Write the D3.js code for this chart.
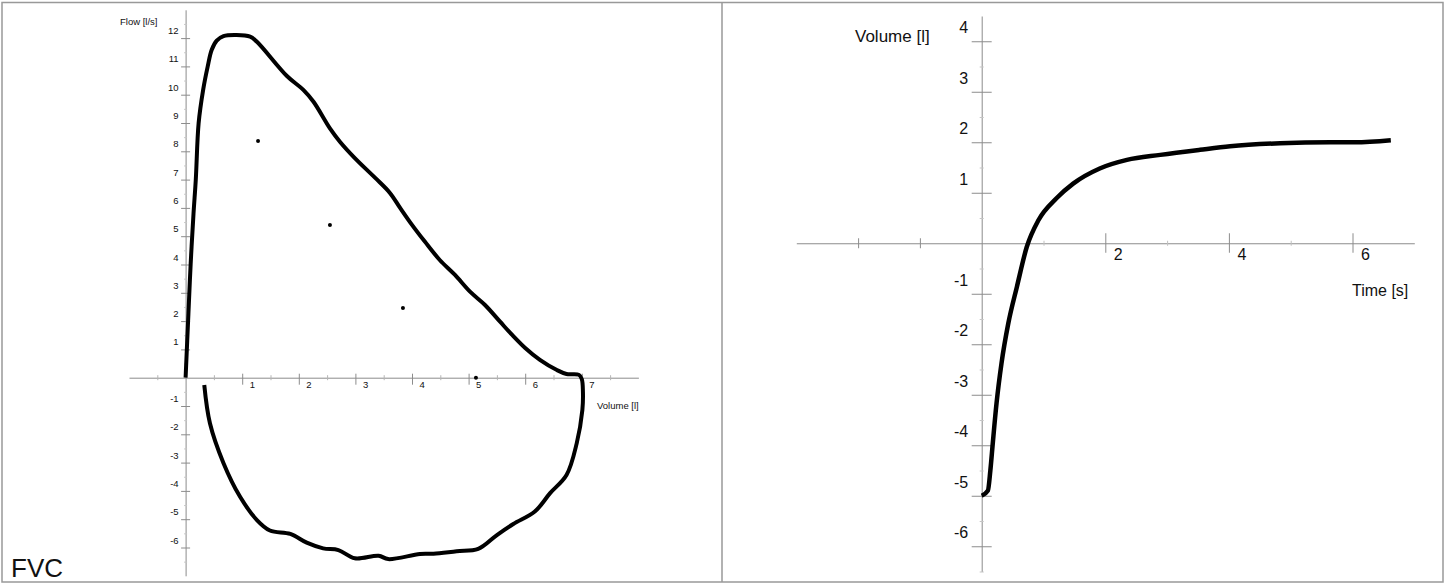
<!DOCTYPE html>
<html>
<head>
<meta charset="utf-8">
<script src="https://cdn.jsdelivr.net/npm/d3@7"></script>
<style>
  html, body { margin: 0; padding: 0; background: #fff; }
  svg { display: block; font-family: "Liberation Sans", Arial, sans-serif; }
</style>
</head>
<body>
<div id="chart"></div>
<script>
// flow-volume loop (left panel)
const loopVolume = [0, 0.05, 0.09, 0.14, 0.18, 0.23, 0.31, 0.39, 0.46, 0.55, 0.67, 0.9, 1.14, 1.26,
  1.79, 2.08, 2.26, 2.55, 2.73, 2.99, 3.35, 3.61, 3.79, 4.0, 4.23, 4.49, 4.76, 5.03, 5.29, 5.56,
  5.77, 6.0, 6.26, 6.56, 6.73, 6.95, 7.0, 7.02, 7.01, 6.91, 6.73, 6.44, 6.17, 5.79, 5.5, 5.17, 4.79,
  4.38, 4.14, 3.58, 3.41, 2.99, 2.7, 2.43, 2.14, 1.85, 1.49, 1.26, 0.96, 0.67, 0.43, 0.33];
const loopFlow = [0, 2.27, 4.04, 5.81, 7.0, 8.99, 10.17, 10.99, 11.58, 11.91, 12.07, 12.11, 12.05, 11.87,
  10.66, 10.17, 9.75, 8.81, 8.33, 7.76, 7.06, 6.53, 6.0, 5.4, 4.8, 4.16, 3.63, 3.03, 2.57, 1.97,
  1.51, 1.05, 0.63, 0.27, 0.13, 0.1, -0.05, -0.5, -1.14, -2.32, -3.44, -4.08, -4.73, -5.17, -5.56, -6.05, -6.13,
  -6.22, -6.23, -6.41, -6.29, -6.38, -6.09, -6.03, -5.83, -5.52, -5.4, -5.03, -4.2, -3.02, -1.61, -0.26];
const markerVolume = [1.28, 2.55, 3.84, 5.13];
const markerFlow = [8.36, 5.4, 2.46, 0];

// volume-time curve (right panel)
const vtTime = [0, 0.1, 0.14, 0.18, 0.24, 0.32, 0.43, 0.57, 0.73, 0.92, 1.21, 1.48, 1.91, 2.35, 2.89,
  3.53, 4.02, 4.83, 5.64, 6.04, 6.62];
const vtVolume = [-5.0, -4.9, -4.5, -3.95, -3.17, -2.38, -1.59, -0.86, -0.07, 0.46, 0.89, 1.18, 1.48, 1.65, 1.75,
  1.85, 1.92, 1.98, 2.0, 2.0, 2.04];

// ticks
const leftXTicks = [1, 2, 3, 4, 5, 6, 7];
const leftXMinor = [-0.5, 0.5, 1.5, 2.5, 3.5, 4.5, 5.5, 6.5, 7.5];
const leftYTicks = [-6, -5, -4, -3, -2, -1, 1, 2, 3, 4, 5, 6, 7, 8, 9, 10, 11, 12];
const leftYMinor = [-6.5, -5.5, -4.5, -3.5, -2.5, -1.5, -0.5, 0.5, 1.5, 2.5, 3.5, 4.5, 5.5, 6.5, 7.5, 8.5, 9.5, 10.5, 11.5, 12.5];
const rightXTicks = [2, 4, 6];
const rightXNeg = [-2, -1];
const rightXMinor = [1, 3, 5];
const rightYTicks = [-6, -5, -4, -3, -2, -1, 1, 2, 3, 4];
const rightYMinor = [-6.5, -5.5, -4.5, -3.5, -2.5, -1.5, -0.5, 0.5, 1.5, 2.5, 3.5];

const W = 1445, H = 585;
const axisColor = '#8c8c8c';

const svg = d3.select('#chart').append('svg')
  .attr('width', W)
  .attr('height', H);

// frame
svg.append('rect')
  .attr('x', 2).attr('y', 2.5)
  .attr('width', 1441).attr('height', 579.5)
  .attr('fill', 'none').attr('stroke', '#999').attr('stroke-width', 1.5);
svg.append('line')
  .attr('x1', 722).attr('x2', 722).attr('y1', 2.5).attr('y2', 582)
  .attr('stroke', '#999').attr('stroke-width', 1.5);

// scales
const xL = d3.scaleLinear().domain([-1, 8]).range([129, 638.4]);
const yL = d3.scaleLinear().domain([-7, 13]).range([575.8, 9.8]);
const xR = d3.scaleLinear().domain([-3, 7]).range([796.3, 1414.3]);
const yR = d3.scaleLinear().domain([-6.5, 4.5]).range([571.5, 16]);

// plain hyphen for negatives, like the original
const plain = d => String(d);

function styleAxis(g) {
  g.select('.domain').attr('stroke', axisColor).attr('stroke-width', 1);
  g.selectAll('.tick line').attr('stroke', axisColor).attr('stroke-width', 1);
  g.selectAll('.tick text').attr('fill', '#111');
}

function hAxis(scale, y, values, up, down, labels, fontSize, dx, dy) {
  const g = svg.append('g')
    .attr('transform', `translate(0,${y})`)
    .call(d3.axisBottom(scale).tickValues(values).tickSizeOuter(0)
      .tickFormat(labels ? plain : () => ''));
  styleAxis(g);
  g.selectAll('.tick line').attr('y1', -up).attr('y2', down);
  g.selectAll('.tick text')
    .attr('text-anchor', 'start')
    .attr('x', dx).attr('y', dy).attr('dy', 0)
    .style('font-size', fontSize + 'px');
  return g;
}

function vAxis(scale, x, values, half, labels, fontSize, dx, dy) {
  const g = svg.append('g')
    .attr('transform', `translate(${x},0)`)
    .call(d3.axisLeft(scale).tickValues(values).tickSizeOuter(0)
      .tickFormat(labels ? plain : () => ''));
  styleAxis(g);
  g.selectAll('.tick line').attr('x1', -half).attr('x2', half);
  g.selectAll('.tick text')
    .attr('text-anchor', 'end')
    .attr('x', dx).attr('y', dy).attr('dy', 0)
    .style('font-size', fontSize + 'px');
  return g;
}

// ---- left panel: flow-volume ----
hAxis(xL, yL(0), leftXMinor, 2.5, 2.5, false, 9, 0, 0)
  .selectAll('.tick line').attr('stroke', '#b5b5b5');
hAxis(xL, yL(0), leftXTicks, 4, 7, true, 9.5, 7, 10.5).select('.domain').remove();
vAxis(yL, xL(0), leftYMinor, 1.5, false, 9, 0, 0)
  .selectAll('.tick line').attr('stroke', '#c5c5c5');
vAxis(yL, xL(0), leftYTicks, 4.5, true, 9.5, -7, -4.5).select('.domain').remove();

svg.append('text')
  .attr('x', 120).attr('y', 25)
  .style('font-size', '9.5px').attr('fill', '#111')
  .text('Flow [l/s]');
svg.append('text')
  .attr('x', 597).attr('y', 408.5)
  .style('font-size', '9.5px').attr('fill', '#111')
  .text('Volume [l]');
svg.append('text')
  .attr('x', 11).attr('y', 577)
  .style('font-size', '26px').attr('fill', '#111')
  .text('FVC');

const loopLine = d3.line()
  .x(i => xL(loopVolume[i]))
  .y(i => yL(loopFlow[i]))
  .curve(d3.curveCatmullRom.alpha(0.5));

svg.append('path')
  .attr('d', loopLine(d3.range(loopVolume.length)))
  .attr('fill', 'none')
  .attr('stroke', '#000')
  .attr('stroke-width', 4)
  .attr('stroke-linejoin', 'round');

svg.selectAll('.marker')
  .data(d3.range(markerVolume.length))
  .join('circle')
  .attr('class', 'marker')
  .attr('cx', i => xL(markerVolume[i]))
  .attr('cy', i => yL(markerFlow[i]))
  .attr('r', 2)
  .attr('fill', '#000');

// ---- right panel: volume-time ----
hAxis(xR, yR(0), rightXMinor, 2.5, 2.5, false, 9, 0, 0)
  .selectAll('.tick line').attr('stroke', '#c0c0c0');
hAxis(xR, yR(0), rightXNeg, 5, 5, false, 9, 0, 0).select('.domain').remove();
hAxis(xR, yR(0), rightXTicks, 10, 9.5, true, 16, 8, 17).select('.domain').remove();
vAxis(yR, xR(0), rightYMinor, 2, false, 9, 0, 0)
  .selectAll('.tick line').attr('stroke', '#c5c5c5');
vAxis(yR, xR(0), rightYTicks, 10, true, 16, -13.5, -8.5).select('.domain').remove();

svg.append('text')
  .attr('x', 855).attr('y', 41.5)
  .style('font-size', '17px').attr('fill', '#111')
  .text('Volume [l]');
svg.append('text')
  .attr('x', 1352).attr('y', 295.5)
  .style('font-size', '16px').attr('fill', '#111')
  .text('Time [s]');

const vtLine = d3.line()
  .x(i => xR(vtTime[i]))
  .y(i => yR(vtVolume[i]))
  .curve(d3.curveMonotoneX);

svg.append('path')
  .attr('d', vtLine(d3.range(vtTime.length)))
  .attr('fill', 'none')
  .attr('stroke', '#000')
  .attr('stroke-width', 4.5)
  .attr('stroke-linejoin', 'round');
</script>
</body>
</html>
